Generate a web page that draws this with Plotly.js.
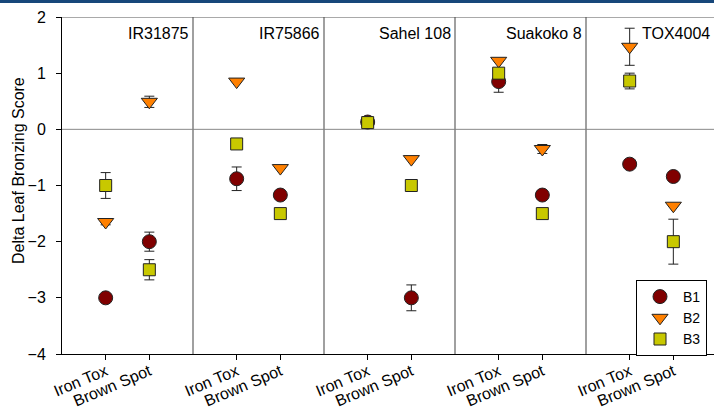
<!DOCTYPE html>
<html>
<head>
<meta charset="utf-8">
<script src="https://cdn.plot.ly/plotly-3.0.1.min.js"></script>
<style>html,body{margin:0;padding:0;background:#fff;}#chart{width:714px;height:409px;}</style>
</head>
<body>
<div id="chart"></div>
<script>
// ---- data ----
var cultivars = ["IR31875", "IR75866", "Sahel 108", "Suakoko 8", "TOX4004"];
var categories = ["Iron Tox", "Brown Spot"];
var seriesNames = ["B1", "B2", "B3"];
var yTitle = "Delta Leaf Bronzing Score";
// values per cultivar: [Iron Tox, Brown Spot]
var b1 = [[-3.0, -2.0], [-0.88, -1.17], [0.13, -3.0], [0.85, -1.17], [-0.62, -0.84]];
var b1Err = [[0, 0.17], [0.21, 0], [0.05, 0.23], [0.19, 0], [0, 0]];
var b2 = [[-1.65, 0.49], [0.85, -0.69], [null, -0.53], [1.22, -0.35], [1.47, -1.36]];
var b2Err = [[0.05, 0.1], [0, 0], [0, 0], [0, 0.08], [0.33, 0]];
var b3 = [[-1.0, -2.5], [-0.26, -1.5], [0.12, -1.0], [1.0, -1.5], [0.86, -2.0]];
var b3Err = [[0.23, 0.18], [0, 0], [0.05, 0], [0, 0], [0.14, 0.4]];

// ---- styles ----
var seriesVals = [b1, b2, b3];
var seriesErrs = [b1Err, b2Err, b3Err];
var symbols = ["circle", "triangle-down", "square"];
var colors = ["#800000", "#ff8000", "#c8c800"];
var sizes = [14, 14, 12];

var W = 714, H = 409, ML = 62, MT = 17, MB = 55;
var plotW = W - ML, plotH = H - MT - MB;
var panelPx = 131;

var traces = [];
for (var s = 0; s < 3; s++) {
  for (var p = 0; p < cultivars.length; p++) {
    traces.push({
      type: "scatter", mode: "markers",
      x: categories, y: seriesVals[s][p],
      xaxis: p === 0 ? "x" : "x" + (p + 1), yaxis: "y",
      name: seriesNames[s], legendgroup: seriesNames[s], showlegend: p === 0,
      marker: {symbol: symbols[s], color: colors[s], size: sizes[s], line: {color: "#222", width: 1}},
      error_y: {type: "data", array: seriesErrs[s][p], visible: true, color: "#222", thickness: 1, width: 5},
      cliponaxis: false
    });
  }
}

var layout = {
  width: W, height: H,
  margin: {l: ML, r: 0, t: MT, b: MB},
  paper_bgcolor: "#fff", plot_bgcolor: "#fff",
  font: {family: "Liberation Sans, Arial, sans-serif", size: 16, color: "#000"},
  showlegend: true,
  legend: {x: (636 - ML) / plotW, y: (H - MB - 280) / plotH, xanchor: "left", yanchor: "top",
    bordercolor: "#000", borderwidth: 1, bgcolor: "#fff", font: {size: 14}, tracegroupgap: 0,
    entrywidth: 70, itemwidth: 36},
  yaxis: {range: [-4, 2], dtick: 1, showgrid: false, zeroline: false, showline: true, linecolor: "#000", linewidth: 1,
    ticks: "outside", ticklen: 5, tickcolor: "#000", tickfont: {size: 16}, ticklabelstandoff: 7, anchor: "x"},
  shapes: [],
  annotations: [{text: yTitle, xref: "paper", yref: "paper", x: (18 - ML) / plotW, y: (H - MB - 171) / plotH,
    xanchor: "center", yanchor: "middle", textangle: -90, showarrow: false, font: {size: 16, color: "#000"}}]
};

for (var p = 0; p < cultivars.length; p++) {
  var x0 = p * panelPx / plotW;
  var x1 = Math.min(1, (p + 1) * panelPx / plotW);
  var visibleUnits = 3 * (x1 - x0) * plotW / panelPx;
  var key = p === 0 ? "xaxis" : "xaxis" + (p + 1);
  layout[key] = {
    type: "category", categoryorder: "array", categoryarray: categories,
    domain: [x0, x1], range: [-1, -1 + visibleUnits], anchor: "y",
    showgrid: false, zeroline: false, showline: true, linecolor: "#000", linewidth: 1,
    ticks: "outside", ticklen: 5, tickcolor: "#000", tickangle: -23, tickfont: {size: 16},
    ticklabelstandoff: -4
  };
  if (p > 0) {
    layout.shapes.push({type: "line", xref: "paper", yref: "paper", x0: x0, x1: x0, y0: 0, y1: 1,
      line: {color: "#808080", width: 1.5}});
  }
  layout.annotations.push({
    text: cultivars[p], xref: (p === 0 ? "x" : "x" + (p + 1)) + " domain", yref: "y",
    x: 1, y: 1.7, xanchor: "right", yanchor: "middle", xshift: -2, showarrow: false,
    font: {size: 16, color: "#000"}
  });
}
layout.shapes.push({type: "line", xref: "paper", yref: "y", x0: 0, x1: 1, y0: 0, y1: 0, line: {color: "#888", width: 1}, layer: "below"});
layout.shapes.push({type: "line", xref: "paper", yref: "y", x0: 0, x1: 1, y0: 2, y1: 2, line: {color: "#555", width: 1}});
layout.shapes.push({type: "rect", xref: "paper", yref: "paper", x0: -ML / plotW, x1: 1,
  y0: (H - MB - 3) / plotH, y1: (H - MB) / plotH, line: {width: 0}, fillcolor: "#17477a"});

Plotly.newPlot("chart", traces, layout, {displayModeBar: false, responsive: false});
</script>
</body>
</html>
